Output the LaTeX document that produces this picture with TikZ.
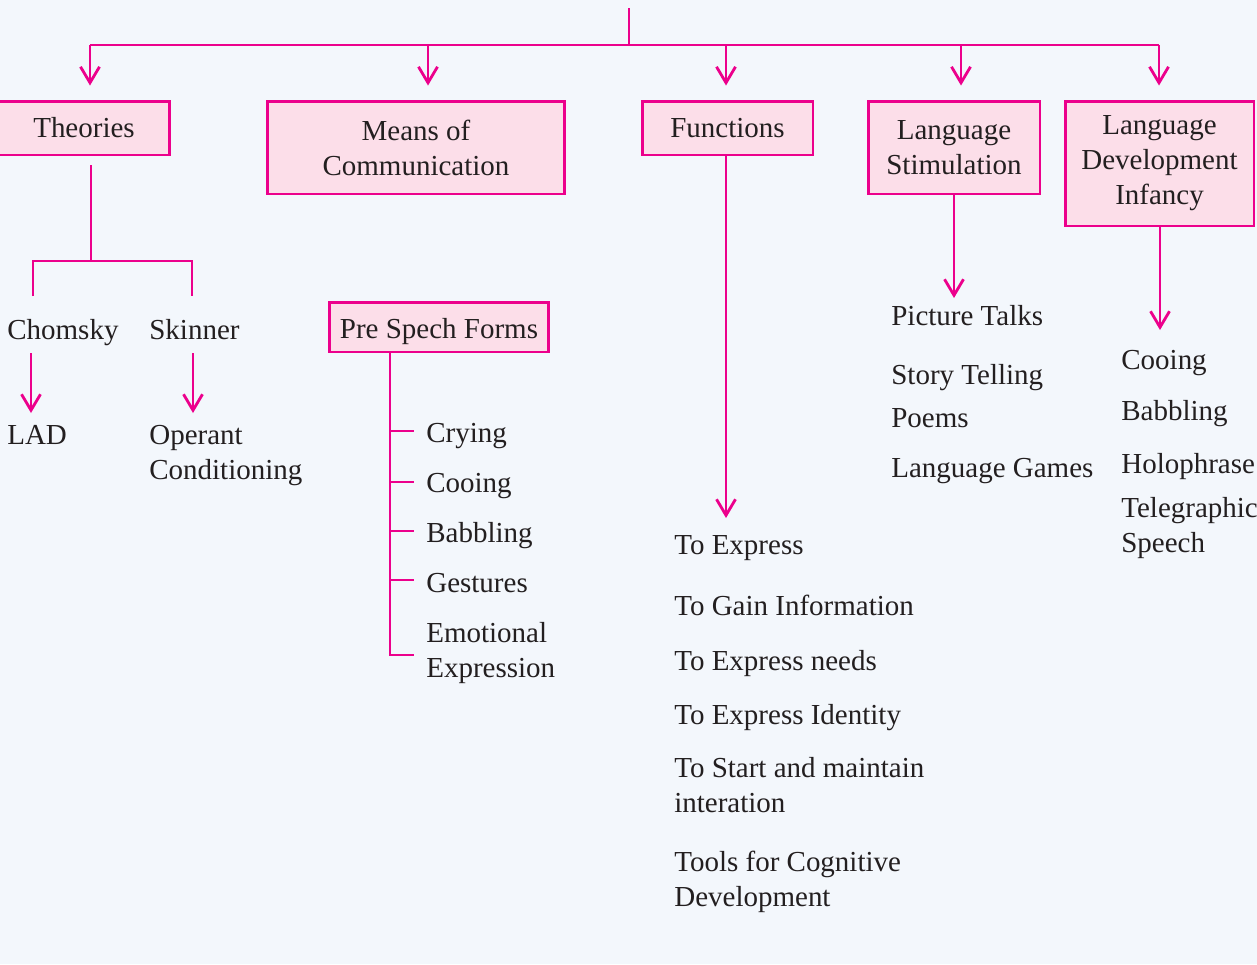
\documentclass[tikz,border=0pt]{standalone}
\usepackage{fontspec}
\setmainfont{Liberation Serif}
\usetikzlibrary{arrows.meta}

\definecolor{linkpink}{RGB}{236,0,140}
\definecolor{boxpink}{RGB}{252,222,233}
\definecolor{paper}{RGB}{243,247,252}
\definecolor{ink}{RGB}{35,31,32}

\begin{document}
\begin{tikzpicture}[x=0.02cm, y=-0.02cm,
    font=\fontsize{16.5}{19.9}\selectfont, text=ink,
    box/.style={draw=linkpink, fill=boxpink, line width=1.7pt, align=center, inner sep=0pt},
    item/.style={anchor=base west, inner sep=0pt, align=left},
    link/.style={draw=linkpink, line width=1.6pt},
    arr/.style={link, -{Straight Barb[length=0.32cm, width=0.38cm]}}]

\fill[paper] (0,0) rectangle (1257,964);
\useasboundingbox (0,0) rectangle (1257,964);

    % Main branches
\node[box, minimum width=3.44cm, minimum height=1.08cm] (theo) at (84,128) {Theories};
\node[box, minimum width=5.96cm, minimum height=1.86cm] (means) at (416,147.5) {Means of\\Communication};
\node[box, minimum width=3.42cm, minimum height=1.08cm] (func) at (727.5,128) {Functions};
\node[box, minimum width=3.44cm, minimum height=1.86cm] (stim) at (954,147.5) {Language\\Stimulation};
\node[box, minimum width=3.78cm, minimum height=2.5cm] (dev) at (1159.5,163.5) {Language\\Development\\Infancy};

\coordinate (top) at (629,8);
\coordinate (hub) at (629,45);
\coordinate (b1) at (90,45);
\coordinate (b2) at (428,45);
\coordinate (b3) at (726,45);
\coordinate (b4) at (961,45);
\coordinate (b5) at (1159,45);
\draw[link] (top) -- (hub);
\draw[link] (b1) -- (b5);
\draw[arr, shorten >=0.28cm] (b1) -- (b1 |- theo.north);
\draw[arr, shorten >=0.28cm] (b2) -- (b2 |- means.north);
\draw[arr, shorten >=0.28cm] (b3) -- (b3 |- func.north);
\draw[arr, shorten >=0.28cm] (b4) -- (b4 |- stim.north);
\draw[arr, shorten >=0.28cm] (b5) -- (b5 |- dev.north);

    % Theories
\node[item] (chom) at (7,339) {Chomsky};
\node[item] (skin) at (149,339) {Skinner};
\node[item] (lad) at (7,444) {LAD};
\node[item] (oper) at (149,479) {Operant\\Conditioning};
\coordinate (tj) at (91,261);
\coordinate (tl) at (33,296);
\coordinate (tr) at (192,296);
\draw[link] ([yshift=-0.18cm]theo.south -| tj) -- (tj);
\draw[link] (tl) -- (tl |- tj) -- (tr |- tj) -- (tr);
\coordinate (ca) at (31,353);
\coordinate (cb) at (31,413);
\coordinate (sa) at (193,353);
\coordinate (sb) at (193,413);
\draw[arr] (ca) -- (cb);
\draw[arr] (sa) -- (sb);

    % Means of Communication
\node[box, minimum width=4.4cm, minimum height=1.0cm] (pre) at (439,327) {\raisebox{-0.09cm}[\height][\depth]{Pre Spech Forms}};
\node[item] (cry) at (426,442) {Crying};
\node[item] (coo) at (426,492) {Cooing};
\node[item] (bab) at (426,542) {Babbling};
\node[item] (ges) at (426,592) {Gestures};
\node[item] (emo) at (426,677) {Emotional\\Expression};
\coordinate (pt) at (390,352);
\coordinate (pe) at (390,655);
\draw[link] (pt) -- (pe) -- ++(24,0);
\foreach \y in {431,482,531,580}
    \draw[link] (390,\y) -- ++(24,0);

    % Functions
\coordinate (fa) at (726,518);
\draw[arr] (func.south -| fa) -- (fa);
\node[item] (f1) at (674,554) {To Express};
\node[item] (f2) at (674,615) {To Gain Information};
\node[item] (f3) at (674,670) {To Express needs};
\node[item] (f4) at (674,724) {To Express Identity};
\node[item] (f5) at (674,812) {To Start and maintain\\interation};
\node[item] (f6) at (674,906) {Tools for Cognitive\\Development};

    % Language Stimulation
\coordinate (sa2) at (954,298);
\draw[arr] (stim.south -| sa2) -- (sa2);
\node[item] (s1) at (891,325) {Picture Talks};
\node[item] (s2) at (891,384) {Story Telling};
\node[item] (s3) at (891,427) {Poems};
\node[item] (s4) at (891,477) {Language Games};

    % Language Development Infancy
\coordinate (da) at (1160,330);
\draw[arr] (dev.south -| da) -- (da);
\node[item] (d1) at (1121,369) {Cooing};
\node[item] (d2) at (1121,420) {Babbling};
\node[item] (d3) at (1121,473) {Holophrase};
\node[item] (d4) at (1121,552) {Telegraphic\\Speech};

\end{tikzpicture}
\end{document}
